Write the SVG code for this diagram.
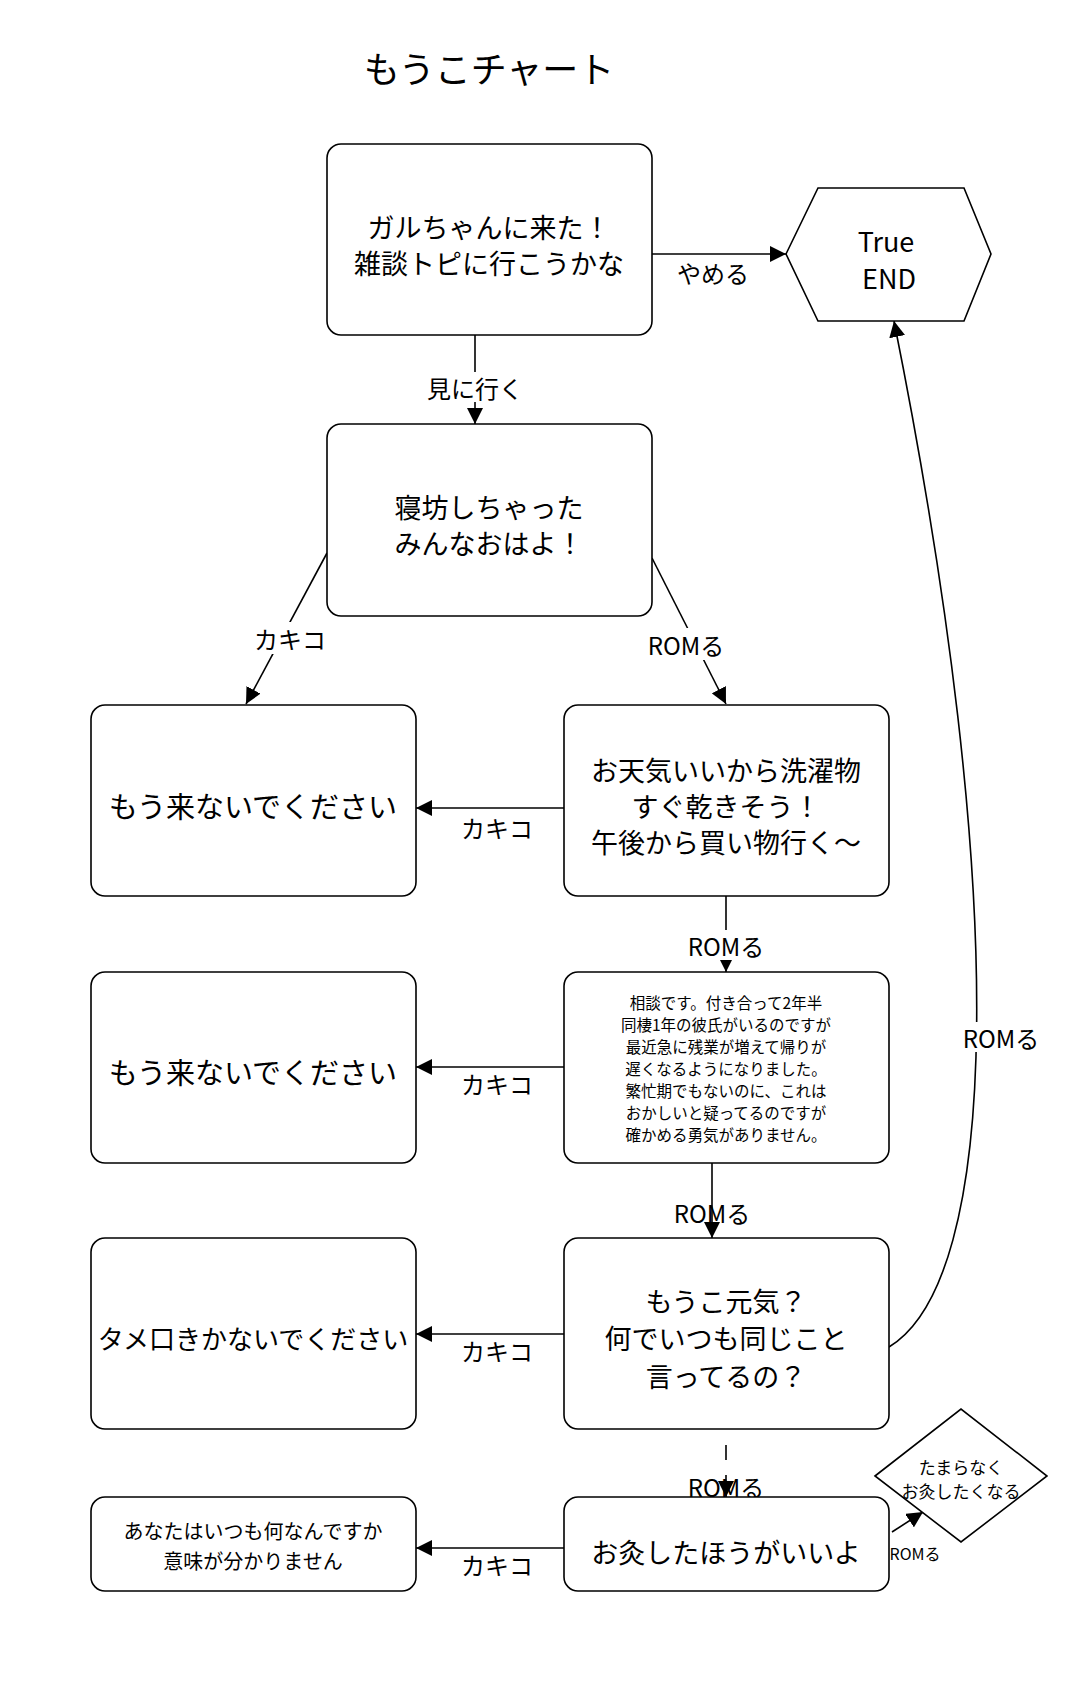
<svg xmlns="http://www.w3.org/2000/svg" width="1080" height="1687" viewBox="0 0 1080 1687">
<style>
text{font-family:"Noto Sans CJK JP","Noto Sans",sans-serif;fill:#000;text-anchor:middle;dominant-baseline:central}
.box{fill:#fff;stroke:#000;stroke-width:1.6}
.t{font-size:27px}
.s{font-size:15.5px}
.l{font-size:24px}
.c{fill:none;stroke:#000;stroke-width:1.6}
.bg{fill:#fff}
</style>
<defs><marker id="b" viewBox="0 0 10 10" refX="10" refY="5" markerWidth="16" markerHeight="16" markerUnits="userSpaceOnUse" orient="auto"><path d="M0,0L10,5L0,10z" fill="#000"/></marker></defs>
<rect width="1080" height="1687" fill="#fff"/>
<text x="489" y="67" style="font-size:36px">もうこチャート</text>
<g id="connectors">
<path class="c" d="M652,254H786" marker-end="url(#b)"/><rect class="bg" x="668" y="258" width="88" height="32"/><text class="l" x="713" y="272">やめる</text>
<path class="c" d="M475,335V424" marker-end="url(#b)"/><rect class="bg" x="420" y="372" width="110" height="30"/><text class="l" x="475" y="387">見に行く</text>
<path class="c" d="M327,553L246,704" marker-end="url(#b)"/><rect class="bg" x="250" y="622" width="80" height="32"/><text class="l" x="290" y="638">カキコ</text>
<path class="c" d="M652,558L726,704" marker-end="url(#b)"/><rect class="bg" x="640" y="628" width="92" height="32"/><text class="l" x="686" y="644">ROMる</text>
<path class="c" d="M564,808H416" marker-end="url(#b)"/><rect class="bg" x="458" y="812" width="80" height="32"/><text class="l" x="497" y="827">カキコ</text>
<path class="c" d="M726,896V972" marker-end="url(#b)"/><rect class="bg" x="680" y="930" width="92" height="30"/><text class="l" x="726" y="945">ROMる</text>
<path class="c" d="M564,1067H416" marker-end="url(#b)"/><rect class="bg" x="458" y="1068" width="80" height="32"/><text class="l" x="497" y="1083">カキコ</text>
<path class="c" d="M712,1163V1238" marker-end="url(#b)"/><text class="l" x="712" y="1212">ROMる</text>
<path class="c" d="M564,1334H416" marker-end="url(#b)"/><rect class="bg" x="458" y="1335" width="80" height="32"/><text class="l" x="497" y="1350">カキコ</text>
<path class="c" d="M889,1347C1000,1280 1010,900 894,321" marker-end="url(#b)"/><rect class="bg" x="955" y="1022" width="92" height="30"/><text class="l" x="1001" y="1037">ROMる</text>
<path class="c" d="M726,1445V1460"/><path class="c" d="M726,1475V1497" marker-end="url(#b)"/><text class="l" x="726" y="1486">ROMる</text>
<path class="c" d="M564,1548H416" marker-end="url(#b)"/><rect class="bg" x="458" y="1549" width="80" height="32"/><text class="l" x="497" y="1564">カキコ</text>
<path class="c" d="M892,1532L923,1512" marker-end="url(#b)"/>
</g>
<g id="n1"><rect class="box" x="327" y="144" width="325" height="191" rx="14"/><text class="t" x="489" y="226">ガルちゃんに来た！</text><text class="t" x="489" y="262">雑談トピに行こうかな</text></g>
<g id="n2"><polygon class="box" points="786,254 818,188 964,188 991,254 964,321 818,321"/><text class="t" x="886" y="240">True</text><text class="t" x="889" y="277">END</text></g>
<g id="n3"><rect class="box" x="327" y="424" width="325" height="192" rx="14"/><text class="t" x="489" y="506">寝坊しちゃった</text><text class="t" x="489" y="542">みんなおはよ！</text></g>
<g id="n4"><rect class="box" x="91" y="705" width="325" height="191" rx="14"/><text class="t" x="253" y="805" style="font-size:29px">もう来ないでください</text></g>
<g id="n5"><rect class="box" x="564" y="705" width="325" height="191" rx="14"/><text class="t" x="726" y="769">お天気いいから洗濯物</text><text class="t" x="726" y="805">すぐ乾きそう！</text><text class="t" x="726" y="841">午後から買い物行く～</text></g>
<g id="n6"><rect class="box" x="91" y="972" width="325" height="191" rx="14"/><text class="t" x="253" y="1071" style="font-size:29px">もう来ないでください</text></g>
<g id="n7"><rect class="box" x="564" y="972" width="325" height="191" rx="14"/>
<text class="s" x="726" y="1002">相談です。付き合って2年半</text><text class="s" x="726" y="1024">同棲1年の彼氏がいるのですが</text><text class="s" x="726" y="1046">最近急に残業が増えて帰りが</text><text class="s" x="726" y="1068">遅くなるようになりました。</text><text class="s" x="726" y="1090">繁忙期でもないのに、これは</text><text class="s" x="726" y="1112">おかしいと疑ってるのですが</text><text class="s" x="726" y="1134">確かめる勇気がありません。</text></g>
<g id="n8"><rect class="box" x="91" y="1238" width="325" height="191" rx="14"/><text x="253" y="1337" style="font-size:26px">タメ口きかないでください</text></g>
<g id="n9"><rect class="box" x="564" y="1238" width="325" height="191" rx="14"/><text class="t" x="726" y="1300">もうこ元気？</text><text class="t" x="726" y="1337">何でいつも同じこと</text><text class="t" x="726" y="1375">言ってるの？</text></g>
<g id="n10"><rect class="box" x="91" y="1497" width="325" height="94" rx="14"/><text x="253" y="1530" style="font-size:20px">あなたはいつも何なんですか</text><text x="253" y="1560" style="font-size:20px">意味が分かりません</text></g>
<g id="n11"><rect class="box" x="564" y="1497" width="325" height="94" rx="14"/><text class="t" x="726" y="1551">お灸したほうがいいよ</text></g>
<g id="n12"><polygon class="box" points="875,1476 961,1409 1047,1476 961,1542"/><text x="961" y="1466" style="font-size:17px">たまらなく</text><text x="961" y="1490" style="font-size:17px">お灸したくなる</text></g>
<text x="915" y="1553" style="font-size:16px">ROMる</text>
</svg>
